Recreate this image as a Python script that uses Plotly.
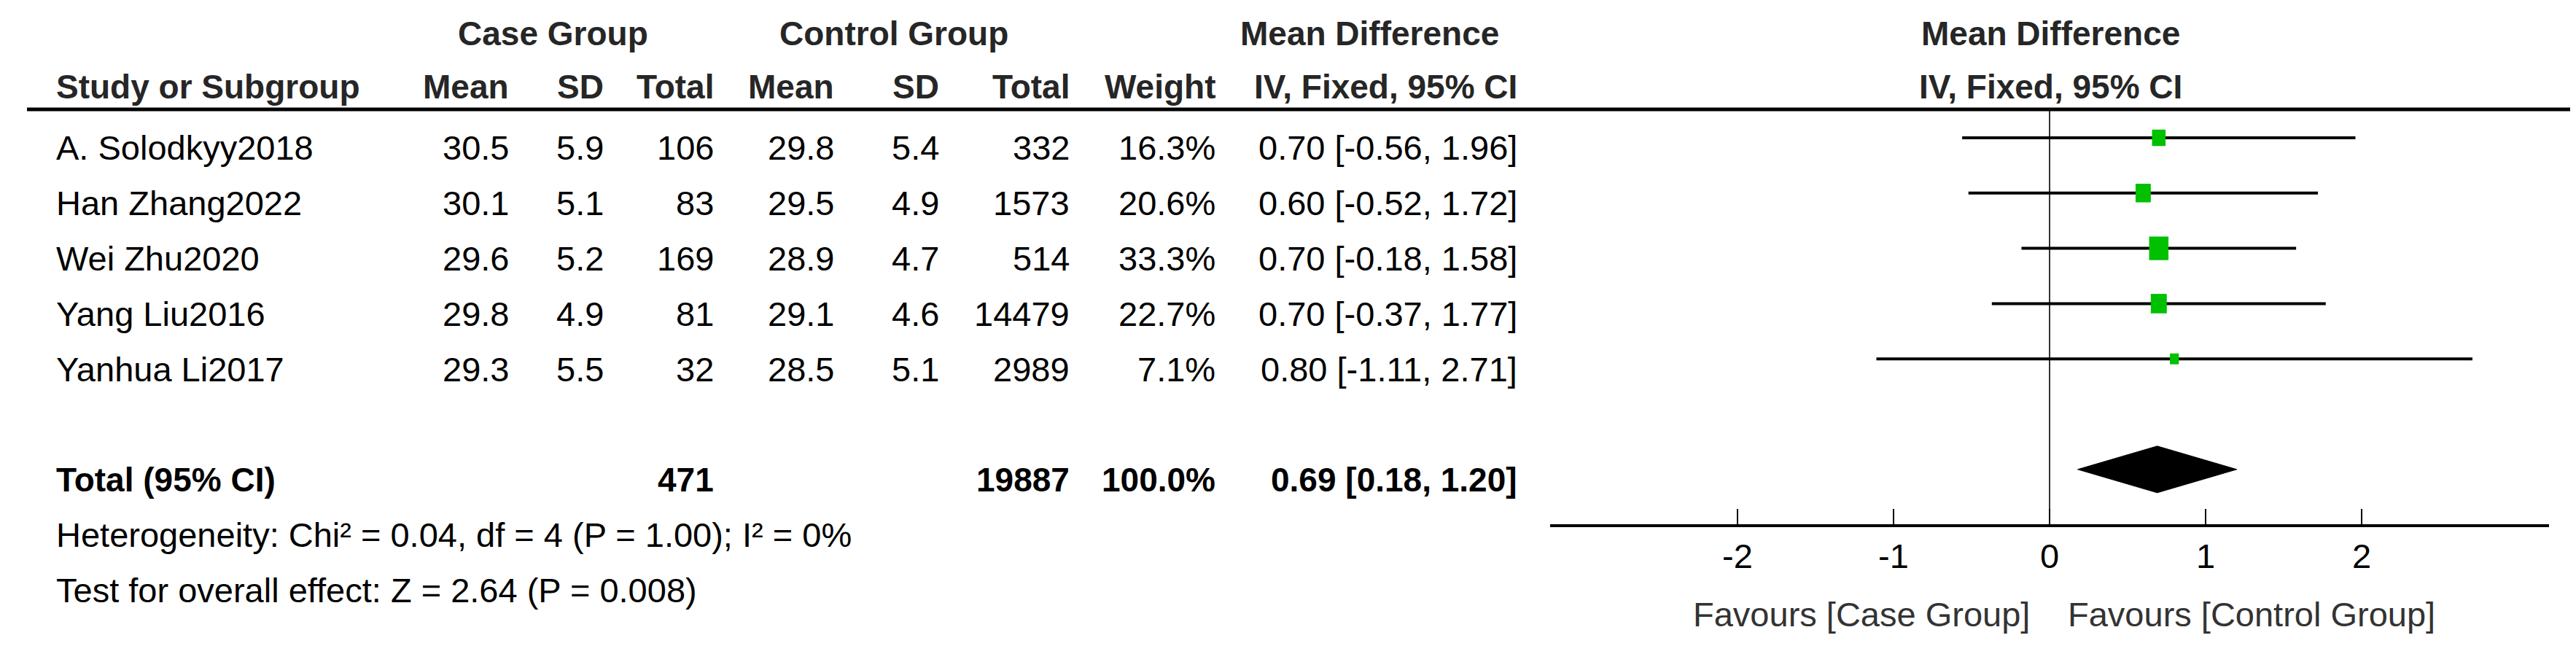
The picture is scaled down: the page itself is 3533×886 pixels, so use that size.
import plotly.graph_objects as go
import numpy as np

# ---------------- data ----------------
studies = ["A. Solodkyy2018", "Han Zhang2022", "Wei Zhu2020", "Yang Liu2016", "Yanhua Li2017"]
case_mean = [30.5, 30.1, 29.6, 29.8, 29.3]
case_sd = [5.9, 5.1, 5.2, 4.9, 5.5]
case_total = [106, 83, 169, 81, 32]
ctrl_mean = [29.8, 29.5, 28.9, 29.1, 28.5]
ctrl_sd = [5.4, 4.9, 4.7, 4.6, 5.1]
ctrl_total = [332, 1573, 514, 14479, 2989]
weight = [16.3, 20.6, 33.3, 22.7, 7.1]
md = [0.70, 0.60, 0.70, 0.70, 0.80]
ci_low = [-0.56, -0.52, -0.18, -0.37, -1.11]
ci_high = [1.96, 1.72, 1.58, 1.77, 2.71]

total_label = "Total (95% CI)"
total_case = 471
total_ctrl = 19887
total_weight = 100.0
total_md = 0.69
total_low = 0.18
total_high = 1.20

heterogeneity = "Heterogeneity: Chi² = 0.04, df = 4 (P = 1.00); I² = 0%"
overall = "Test for overall effect: Z = 2.64 (P = 0.008)"

tick_vals = [-2, -1, 0, 1, 2]
tick_text = ["-2", "-1", "0", "1", "2"]
favours_left = "Favours [Case Group]"
favours_right = "Favours [Control Group]"

# ---------------- layout constants ----------------
W, H = 3533, 886
FONT = "Liberation Sans, Arial"
FS = 47      # regular text
FSB = 46     # bold text
ROW0 = 181.0      # pixel y of graphic centre of row 1
ROWH = 75.8       # row spacing in pixels
TEXT_OFF = 14.0   # text sits slightly below the graphic centre
Y_TOP_PX = 142.0  # header underline
Y_AXIS_PX = 711.0 # forest x-axis line
X0_PX, UNIT_PX = 2803.0, 214.0
XR = [-3.2, 3.2]


def row_of_px(py):
    return 1 + (py - ROW0) / ROWH


def ypaper(py):
    return 1 - py / H


def xpaper(px):
    return px / W


y_top = row_of_px(Y_TOP_PX)
y_bot = row_of_px(Y_AXIS_PX)

fig = go.Figure()

# CI lines
for i in range(len(studies)):
    r = i + 1
    fig.add_trace(go.Scatter(x=[ci_low[i], ci_high[i]], y=[r, r], mode="lines",
                             line=dict(color="black", width=4), hoverinfo="skip",
                             showlegend=False))

# weight squares (area proportional to weight)
for i in range(len(studies)):
    r = i + 1
    hw = 2.3 * np.sqrt(weight[i]) / UNIT_PX
    hh = 2.8 * np.sqrt(weight[i]) / ROWH
    fig.add_shape(type="rect", xref="x", yref="y",
                  x0=md[i] - hw, x1=md[i] + hw, y0=r - hh, y1=r + hh,
                  fillcolor="#00C000", line=dict(width=0))

# total diamond
r_tot = 7
dh = 32 / ROWH
fig.add_trace(go.Scatter(x=[total_low, total_md, total_high, total_md, total_low],
                         y=[r_tot, r_tot - dh, r_tot, r_tot + dh, r_tot],
                         mode="lines", fill="toself", fillcolor="black",
                         line=dict(color="black", width=1), hoverinfo="skip",
                         showlegend=False))

# axis ticks crossing the axis line
tx, ty = [], []
for t in tick_vals:
    tx += [t, t, None]
    ty += [y_bot - 21 / ROWH, y_bot + 21 / ROWH, None]
fig.add_trace(go.Scatter(x=tx, y=ty, mode="lines", line=dict(color="black", width=2),
                         hoverinfo="skip", showlegend=False, cliponaxis=False))

# header underline
fig.add_shape(type="line", xref="paper", yref="paper", x0=xpaper(29), x1=1,
              y0=ypaper(Y_TOP_PX), y1=ypaper(Y_TOP_PX), line=dict(color="black", width=5))

ann = []


def txt(px, py, s, anchor, bold=False, color="black"):
    ann.append(dict(x=xpaper(px), y=ypaper(py), xref="paper", yref="paper",
                    text=("<b>%s</b>" % s) if bold else s, showarrow=False,
                    xanchor=anchor, yanchor="middle",
                    font=dict(family=FONT, size=FSB if bold else FS, color=color)))


HC = "#262626"
# header row 1
txt(750, 38, "Case Group", "center", True, HC)
txt(1218, 38, "Control Group", "center", True, HC)
txt(1871, 38, "Mean Difference", "center", True, HC)
txt(2804, 38, "Mean Difference", "center", True, HC)
# header row 2
hy = 111
txt(67, hy, "Study or Subgroup", "left", True, HC)
col_right = [692, 822, 973, 1138, 1282, 1461, 1661, 2075]
for px, s in zip(col_right, ["Mean", "SD", "Total", "Mean", "SD", "Total", "Weight",
                             "IV, Fixed, 95% CI"]):
    txt(px, hy, s, "right", True, HC)
txt(2804, hy, "IV, Fixed, 95% CI", "center", True, HC)

# study rows
for i in range(len(studies)):
    py = ROW0 + TEXT_OFF + ROWH * i
    txt(67, py, studies[i], "left")
    vals = ["%.1f" % case_mean[i], "%.1f" % case_sd[i], "%d" % case_total[i],
            "%.1f" % ctrl_mean[i], "%.1f" % ctrl_sd[i], "%d" % ctrl_total[i],
            "%.1f%%" % weight[i],
            "%.2f [%.2f, %.2f]" % (md[i], ci_low[i], ci_high[i])]
    for px, s in zip(col_right, vals):
        txt(px, py, s, "right")

# total row
py = ROW0 + TEXT_OFF + ROWH * (r_tot - 1)
txt(67, py, total_label, "left", True)
txt(col_right[2], py, "%d" % total_case, "right", True)
txt(col_right[5], py, "%d" % total_ctrl, "right", True)
txt(col_right[6], py, "%.1f%%" % total_weight, "right", True)
txt(col_right[7], py, "%.2f [%.2f, %.2f]" % (total_md, total_low, total_high), "right", True)

txt(67, ROW0 + TEXT_OFF + ROWH * 7, heterogeneity, "left")
txt(67, ROW0 + TEXT_OFF + ROWH * 8, overall, "left")

txt(2778, 834, favours_left, "right", False, "#333333")
txt(2826, 834, favours_right, "left", False, "#333333")

fig.update_layout(
    width=W, height=H, margin=dict(l=0, r=0, t=0, b=0),
    paper_bgcolor="white", plot_bgcolor="white", showlegend=False,
    annotations=ann,
    xaxis=dict(domain=[xpaper(X0_PX + XR[0] * UNIT_PX), xpaper(X0_PX + XR[1] * UNIT_PX)],
               range=XR, showgrid=False, zeroline=True, zerolinecolor="#333333",
               zerolinewidth=2, showline=True, linecolor="black", linewidth=4,
               ticks="", tickvals=tick_vals, ticktext=tick_text,
               tickfont=dict(family=FONT, size=FS, color="black")),
    yaxis=dict(domain=[ypaper(Y_AXIS_PX), ypaper(Y_TOP_PX)], range=[y_bot, y_top],
               visible=False, showgrid=False, zeroline=False),
)

fig.write_html("out.html")
